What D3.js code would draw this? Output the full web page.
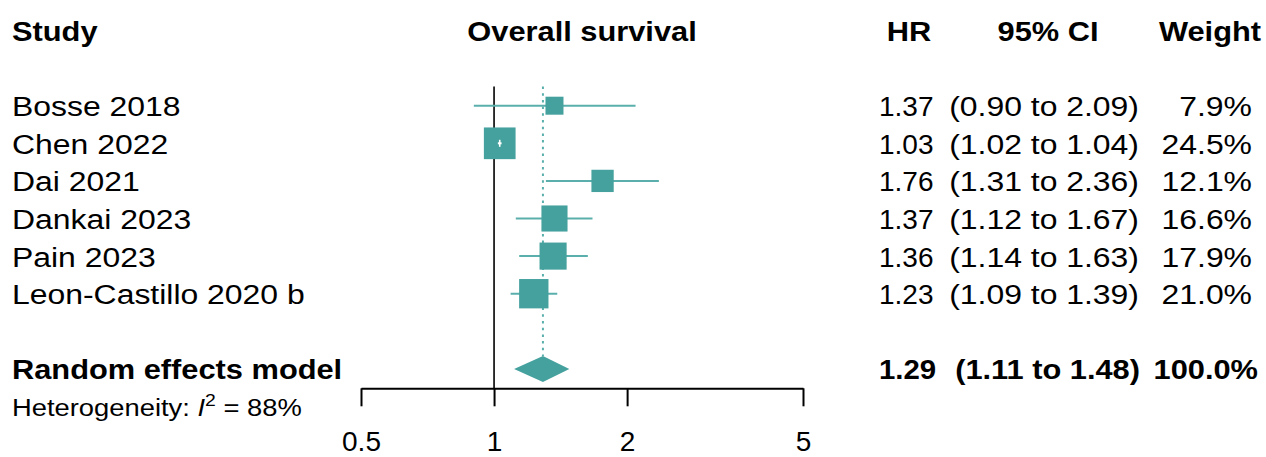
<!DOCTYPE html>
<html>
<head>
<meta charset="utf-8">
<script src="https://cdn.jsdelivr.net/npm/d3@7"></script>
<style>
  body { margin: 0; background: #fff; }
  text { font-family: "Liberation Sans", Arial, Helvetica, sans-serif; fill: #000; }
</style>
</head>
<body>
<div id="chart"></div>
<script>
// study data
var studies = ["Bosse 2018", "Chen 2022", "Dai 2021", "Dankai 2023", "Pain 2023", "Leon-Castillo 2020 b"]
var hr      = [1.37, 1.03, 1.76, 1.37, 1.36, 1.23]
var ciLow   = [0.90, 1.02, 1.31, 1.12, 1.14, 1.09]
var ciHigh  = [2.09, 1.04, 2.36, 1.67, 1.63, 1.39]
var weights = [7.9, 24.5, 12.1, 16.6, 17.9, 21.0]

// pooled estimate
var pooledLabel = "Random effects model"
var pooled = { hr: 1.29, lo: 1.11, hi: 1.48, weight: 100.0 }
var i2 = 88

var ticks = [0.5, 1, 2, 5]
var headers = { study: "Study", plot: "Overall survival", hr: "HR", ci: "95% CI", weight: "Weight" }

var width = 1266, height = 457
var teal = "#45a19e", tealLine = "#5aafac"
var SX = 1.14       // text in the reference is a bit wider than tall
var SX_BOLD = 1.1

var svg = d3.select("#chart").append("svg")
  .attr("width", width)
  .attr("height", height)

var x = d3.scaleLog().domain([0.5, 5]).range([361, 803])
var row = d3.scaleLinear().domain([0, 1]).range([105.7, 143.3])  // row index -> y centre
var box = d3.scaleSqrt().domain([0, 24.5]).range([0, 31.7])

var fmt2 = d3.format(".2f"), fmt1 = d3.format(".1f")

function label(txt, px, py, anchor, opts){
  opts = opts || {}
  var sx = opts.sx || (opts.bold ? SX_BOLD : SX)
  return svg.append("text")
    .attr("transform", "translate(" + px + "," + py + ") scale(" + sx + ",1)")
    .attr("text-anchor", anchor)
    .style("font-size", (opts.size || 28) + "px")
    .style("font-weight", opts.bold ? "bold" : "normal")
    .text(txt)
}

var base = 10.5  // centre -> baseline

// headers
var yHead = row(-2)
label(headers.study, 12, yHead + base, "start", {bold: true})
label(headers.plot, (x(0.5) + x(5)) / 2, yHead + base, "middle", {bold: true})
label(headers.hr, 909, yHead + base, "middle", {bold: true})
label(headers.ci, 1048, yHead + base, "middle", {bold: true})
label(headers.weight, 1210, yHead + base, "middle", {bold: true})

// reference line at 1
var yPooled = row(studies.length + 1)
var yAxis = 388.3
svg.append("line")
  .attr("x1", x(1)).attr("x2", x(1))
  .attr("y1", 86.5).attr("y2", yAxis)
  .attr("stroke", "#000").attr("stroke-width", 1.6)

// pooled estimate dotted line
svg.append("line")
  .attr("x1", x(pooled.hr)).attr("x2", x(pooled.hr))
  .attr("y1", 86.5).attr("y2", yPooled - 13)
  .attr("stroke", tealLine).attr("stroke-width", 2)
  .attr("stroke-dasharray", "2.5,4.2")

// study rows
var data = studies.map(function(s, i){
  return { study: s, hr: hr[i], lo: ciLow[i], hi: ciHigh[i], w: weights[i], i: i }
})

var g = svg.append("g")

g.selectAll(".ci")
  .data(data)
  .enter().append("line")
  .attr("class", "ci")
  .attr("x1", function(d){ return x(d.lo) })
  .attr("x2", function(d){ return x(d.hi) })
  .attr("y1", function(d){ return row(d.i) })
  .attr("y2", function(d){ return row(d.i) })
  .attr("stroke", tealLine)
  .attr("stroke-width", 2)

g.selectAll(".box")
  .data(data)
  .enter().append("rect")
  .attr("class", "box")
  .attr("x", function(d){ return x(d.hr) - box(d.w) / 2 })
  .attr("y", function(d){ return row(d.i) - box(d.w) / 2 })
  .attr("width", function(d){ return box(d.w) })
  .attr("height", function(d){ return box(d.w) })
  .attr("fill", teal)

// CI hidden inside the box -> white line
var inside = data.filter(function(d){
  return x(d.hi) - x(d.lo) < box(d.w)
})
g.selectAll(".ciw")
  .data(inside)
  .enter().append("line")
  .attr("class", "ciw")
  .attr("x1", function(d){ return x(d.lo) })
  .attr("x2", function(d){ return x(d.hi) })
  .attr("y1", function(d){ return row(d.i) })
  .attr("y2", function(d){ return row(d.i) })
  .attr("stroke", "#fff")
  .attr("stroke-width", 2)
g.selectAll(".ciwv")
  .data(inside)
  .enter().append("line")
  .attr("class", "ciwv")
  .attr("x1", function(d){ return x(d.hr) })
  .attr("x2", function(d){ return x(d.hr) })
  .attr("y1", function(d){ return row(d.i) - 3.5 })
  .attr("y2", function(d){ return row(d.i) + 3.5 })
  .attr("stroke", "#fff")
  .attr("stroke-width", 1.6)

// text columns
data.forEach(function(d){
  var yy = row(d.i) + base
  label(d.study, 12, yy, "start")
  label(fmt2(d.hr), 879, yy, "start", {sx: 1.0})
  label("(" + fmt2(d.lo) + " to " + fmt2(d.hi) + ")", 1139, yy, "end")
  label(fmt1(d.w) + "%", 1252, yy, "end")
})

// pooled diamond
var dh = 13
svg.append("path")
  .attr("d", d3.line()([
    [x(pooled.lo), yPooled],
    [x(pooled.hr), yPooled - dh],
    [x(pooled.hi), yPooled],
    [x(pooled.hr), yPooled + dh]
  ]) + "Z")
  .attr("fill", teal)

label(pooledLabel, 12, yPooled + base, "start", {bold: true})
label(fmt2(pooled.hr), 879, yPooled + base, "start", {bold: true, sx: 1.05})
label("(" + fmt2(pooled.lo) + " to " + fmt2(pooled.hi) + ")", 1140, yPooled + base, "end", {bold: true})
label(fmt1(pooled.weight) + "%", 1258, yPooled + base, "end", {bold: true})

// heterogeneity
var het = label("", 12, row(studies.length + 2) + 9, "start", {size: 24})
het.append("tspan").text("Heterogeneity: ")
het.append("tspan").style("font-style", "italic").text("I")
het.append("tspan").attr("dy", -10).style("font-size", "17px").text("2")
het.append("tspan").attr("dy", 10).text(" = " + i2 + "%")

// x axis
var axis = d3.axisBottom(x)
  .tickValues(ticks)
  .tickFormat(d3.format(""))
  .tickSize(18)
  .tickSizeOuter(0)
  .tickPadding(25)

var ax = svg.append("g")
  .attr("transform", "translate(0," + yAxis + ")")
  .call(axis)
ax.select(".domain").attr("stroke", "#000").attr("stroke-width", 2)
ax.selectAll(".tick line").attr("stroke", "#000").attr("stroke-width", 2)
ax.selectAll(".tick text")
  .style("font-size", "28px")
  .style("font-family", "'Liberation Sans', Arial, sans-serif")
  .attr("fill", "#000")
</script>
</body>
</html>
